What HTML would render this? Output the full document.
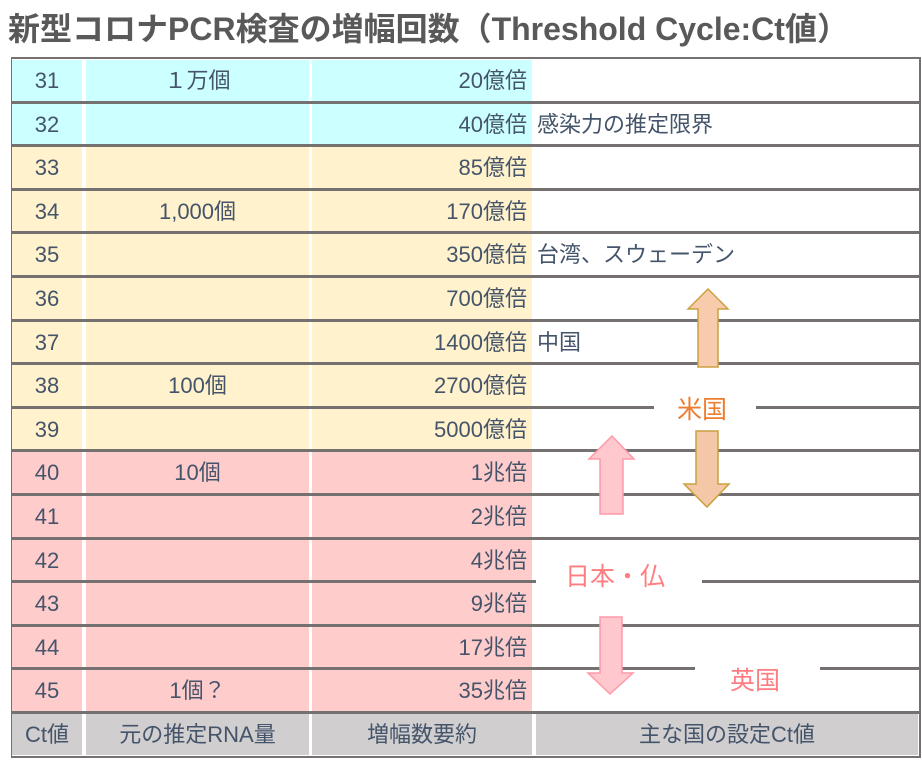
<!DOCTYPE html>
<html><head><meta charset="utf-8"><style>
body{margin:0;width:922px;height:772px;background:#fff;overflow:hidden;position:relative;font-family:"Liberation Sans","Noto Sans CJK JP",sans-serif;color:#44546a}
.t{position:absolute;left:8px;top:4px;font-size:32px;font-weight:bold;color:#595959;letter-spacing:0px;white-space:nowrap}
.c{position:absolute;font-size:22px;line-height:41px;height:41px;white-space:nowrap;box-sizing:border-box}
.hl{position:absolute;height:3px;background:#767171}
.lab{position:absolute;font-size:25px;white-space:nowrap}
</style></head><body>
<div class="t">新型コロナPCR検査の増幅回数（Threshold Cycle:Ct値）</div>
<div id="tbl"></div>
<svg width="922" height="772" style="position:absolute;left:0;top:0">
<polygon points="708,289 728,309 718,309 718,367 698,367 698,309 688,309" fill="#f8cbad" stroke="#c9a040" stroke-width="1.5"/>
<polygon points="696,431 718,431 718,484 729,484 707,507 684,484 696,484" fill="#f4c7a6" stroke="#c9a040" stroke-width="1.5"/>
<polygon points="612,436 634,459 623,459 623,514 600,514 600,459 589,459" fill="#ffc7ce" stroke="#ff9aa8" stroke-width="1.5"/>
<polygon points="600,617 622,617 622,673 633,673 610,694 588,673 600,673" fill="#ffc7ce" stroke="#ff9aa8" stroke-width="1.5"/>
</svg>
<div class="lab" style="left:677px;top:390px;color:#ed7d31">米国</div>
<div class="lab" style="left:565px;top:557px;color:#ff7c80">日本・仏</div>
<div class="lab" style="left:730px;top:661px;color:#ff7c80">英国</div>
<script>
const ctValues=[31,32,33,34,35,36,37,38,39,40,41,42,43,44,45];
const rnaAmounts=["１万個","","","1,000個","","","","100個","","10個","","","","","1個？"];
const amplification=["20億倍","40億倍","85億倍","170億倍","350億倍","700億倍","1400億倍","2700億倍","5000億倍","1兆倍","2兆倍","4兆倍","9兆倍","17兆倍","35兆倍"];
const notes=["","感染力の推定限界","","","台湾、スウェーデン","","中国","","","","","","","",""];
const bands=["c","c","y","y","y","y","y","y","y","p","p","p","p","p","p"];
const colors={c:"#ccffff",y:"#fff2cc",p:"#ffcccc"};
const gaps={8:[[654,756]],12:[[536,702]],14:[[695,820]]};
const tbl=document.getElementById('tbl');
const top0=58,rh=43.6;
function cell(x,y,w,h,bg,txt,align,name){
 const d=document.createElement('div');d.className='c';
 
 
 d.style.cssText=`left:${x}px;top:${y}px;width:${w}px;height:${h}px;background:${bg};text-align:${align};padding:0 5px`;
 d.textContent=txt;tbl.appendChild(d);}
const fr=document.createElement('div');


fr.style.cssText=`position:absolute;left:11px;top:${top0-1}px;width:907px;height:${rh*15+43}px;border:2px solid #767171;border-left-width:1px`;
tbl.appendChild(fr);
ctValues.forEach((v,i)=>{
 const y=top0+i*rh+2,h=rh-3,bg=colors[bands[i]];
 cell(12,y,70,h,bg,v,'center','ct-cell');
 cell(86,y,223,h,bg,rnaAmounts[i],'center','rna-cell');
 cell(312,y,220,h,bg,amplification[i],'right','amp-cell');
 cell(532,y,386,h,'#fff',notes[i],'left','country-cell');
});
const fy=top0+15*rh+2;
cell(12,fy,70,41,'#d0cece','Ct値','center','footer-ct');
cell(86,fy,223,41,'#d0cece','元の推定RNA量','center','footer-rna');
cell(312,fy,220,41,'#d0cece','増幅数要約','center','footer-amp');
cell(536,fy,382,41,'#d0cece','主な国の設定Ct値','center','footer-country');
for(let k=1;k<=15;k++){
 const y=top0+k*rh-1;
 let segs=[[12,920]];
 if(gaps[k]){segs=[];let s=12;gaps[k].forEach(g=>{segs.push([s,g[0]]);s=g[1];});segs.push([s,920]);}
 segs.forEach(sg=>{const l=document.createElement('div');l.className='hl';
  
  
  l.style.cssText=`left:${sg[0]}px;top:${y}px;width:${sg[1]-sg[0]}px`;tbl.appendChild(l);});
}
</script>
</body></html>
